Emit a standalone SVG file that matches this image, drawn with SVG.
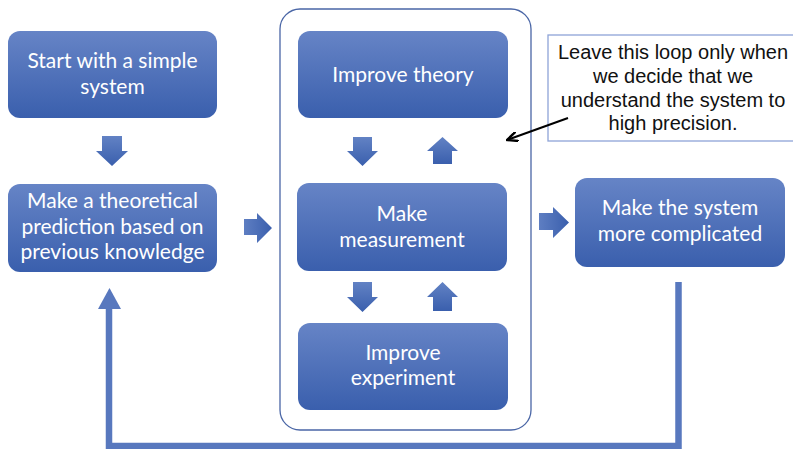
<svg xmlns="http://www.w3.org/2000/svg" width="793" height="449" viewBox="0 0 793 449">
  <defs>
    <linearGradient id="boxFill" x1="0" y1="0" x2="0" y2="1">
      <stop offset="0" stop-color="#6684c6"/>
      <stop offset="1" stop-color="#3a5fad"/>
    </linearGradient>
    <linearGradient id="arrowV" x1="0" y1="0" x2="0" y2="1">
      <stop offset="0" stop-color="#6282c4"/>
      <stop offset="1" stop-color="#3a5fad"/>
    </linearGradient>
    <linearGradient id="arrowH" x1="0" y1="0" x2="1" y2="0">
      <stop offset="0" stop-color="#5e7ec2"/>
      <stop offset="1" stop-color="#3a5fad"/>
    </linearGradient>
    <marker id="blackHead" markerWidth="12" markerHeight="10" refX="11" refY="5" orient="auto" markerUnits="userSpaceOnUse">
      <path d="M0,0 L11,5 L0,10" fill="none" stroke="#000" stroke-width="2.4"/>
    </marker>
  </defs>
  <style>
    .box { fill: url(#boxFill); }
    .label { font-family: Lato, "Open Sans", sans-serif; font-size: 21px; fill: #ffffff; text-anchor: middle; }
    .note { font-family: "Liberation Sans", Arial, sans-serif; font-size: 20px; fill: #111111; text-anchor: middle; }
    .fat-v { fill: url(#arrowV); }
    .fat-h { fill: url(#arrowH); }
  </style>

  <rect width="793" height="449" fill="#ffffff"/>

  <!-- frame around the inner refinement loop -->
  <rect id="loop-frame" x="280" y="9" width="251" height="421" rx="20" fill="none" stroke="#4a66a6" stroke-width="1.3"/>

  <g id="start">
    <rect class="box" x="8" y="31" width="209" height="87" rx="12"/>
    <text class="label" x="112.5" y="68">Start with a simple</text>
    <text class="label" x="112.5" y="94">system</text>
  </g>

  <g id="predict">
    <rect class="box" x="8" y="184" width="209" height="88" rx="12"/>
    <text class="label" x="112.5" y="208">Make a theoretical</text>
    <text class="label" x="112.5" y="233.5">prediction based on</text>
    <text class="label" x="112.5" y="259">previous knowledge</text>
  </g>

  <g id="theory">
    <rect class="box" x="298" y="31" width="210" height="87" rx="12"/>
    <text class="label" x="403" y="82">Improve theory</text>
  </g>

  <g id="measure">
    <rect class="box" x="297" y="183" width="210" height="88" rx="12"/>
    <text class="label" x="402" y="221">Make</text>
    <text class="label" x="402" y="247">measurement</text>
  </g>

  <g id="experiment">
    <rect class="box" x="298" y="323" width="210" height="87" rx="12"/>
    <text class="label" x="403" y="360">Improve</text>
    <text class="label" x="403" y="385">experiment</text>
  </g>

  <g id="complicate">
    <rect class="box" x="575" y="178" width="210" height="89" rx="12"/>
    <text class="label" x="680" y="215">Make the system</text>
    <text class="label" x="680" y="241">more complicated</text>
  </g>

  <g id="note">
    <rect x="548" y="35" width="248" height="106" fill="#ffffff" stroke="#8ea4d8" stroke-width="1.3"/>
    <text class="note" x="673" y="59">Leave this loop only when</text>
    <text class="note" x="673" y="83">we decide that we</text>
    <text class="note" x="673" y="107">understand the system to</text>
    <text class="note" x="673" y="130">high precision.</text>
  </g>

  <g id="connectors">
    <!-- block arrows -->
    <path class="fat-v" d="M102,136 H122 V151 H128 L112,166 L96,151 H102 Z"/>
    <path class="fat-h" d="M244,219 H257 V213 L272,228 L257,243 V235 H244 Z"/>
    <path class="fat-h" d="M539,213 H553 V207 L569,222.5 L553,238 V230 H539 Z"/>
    <path class="fat-v" d="M353,137 H372 V151 H378 L362.5,166 L347,151 H353 Z"/>
    <path class="fat-v" d="M433,164 H452 V151 H458 L442.5,137 L427,151 H433 Z"/>
    <path class="fat-v" d="M353,282 H372 V297 H378 L362.5,312 L347,297 H353 Z"/>
    <path class="fat-v" d="M433,311 H452 V297 H458 L442.5,282 L427,297 H433 Z"/>
    <!-- outer feedback loop -->
    <path d="M678.5,282 V446 H109 V306" fill="none" stroke="#5878be" stroke-width="6.5"/>
    <path d="M98,309 L109.5,288 L121,309 Z" fill="#5878be"/>
    <!-- pointer from the note -->
    <line x1="568" y1="118" x2="507" y2="140" stroke="#000" stroke-width="2" marker-end="url(#blackHead)"/>
  </g>
</svg>
